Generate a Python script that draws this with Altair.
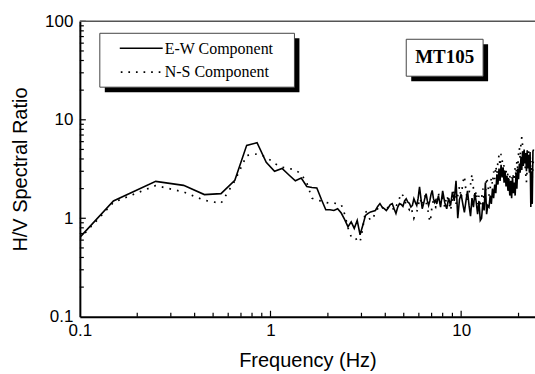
import altair as alt
import pandas as pd

# Frequency (Hz)
freq = [0.1, 0.15, 0.25, 0.35, 0.45, 0.55, 0.65, 0.75, 0.85, 0.95,
        1.05, 1.15, 1.25, 1.35, 1.45, 1.55, 1.65, 1.75, 1.85, 1.95,
        2.05, 2.15, 2.25, 2.35, 2.45, 2.55, 2.65, 2.75, 2.85, 2.95,
        3.05, 3.15, 3.25, 3.35, 3.45, 3.55, 3.65, 3.75, 3.85, 3.95,
        4.05, 4.15, 4.25, 4.35, 4.45, 4.55, 4.65, 4.75, 4.85, 4.95,
        5.05, 5.15, 5.25, 5.35, 5.45, 5.55, 5.65, 5.75, 5.85, 5.95,
        6.05, 6.15, 6.25, 6.35, 6.45, 6.55, 6.65, 6.75, 6.85, 6.95,
        7.05, 7.15, 7.25, 7.35, 7.45,
        7.6, 7.8, 8.0, 8.2, 8.4, 8.6, 8.8, 9.0, 9.2, 9.4,
        9.6, 9.8, 10.0, 10.2, 10.4, 10.6, 10.8, 11.0, 11.2, 11.4,
        11.6, 11.8, 12.0, 12.2, 12.4, 12.6, 12.8, 13.0, 13.2, 13.4,
        13.6, 13.8, 14.0, 14.2, 14.4, 14.6, 14.8, 15.0, 15.2, 15.4,
        15.6, 15.8, 16.0, 16.2, 16.4, 16.6, 16.8, 17.0, 17.2, 17.4,
        17.6, 17.8, 18.0, 18.2, 18.4, 18.6, 18.8, 19.0, 19.2, 19.4,
        19.6, 19.8, 20.0, 20.2, 20.4, 20.6, 20.8, 21.0, 21.2, 21.4,
        21.6, 21.8, 22.0, 22.2, 22.4, 22.6, 22.8, 23.0, 23.2, 23.4,
        23.6, 23.8, 24.0]

# E-W component H/V ratio
ew = [0.64, 1.50, 2.37, 2.16, 1.74, 1.78, 2.43, 5.5, 5.85, 3.7,
      3.0, 3.2, 2.75, 2.4, 2.56, 2.1, 2.05, 2.03, 1.55, 1.22,
      1.22, 1.2, 1.25, 1.13, 0.97, 0.82, 0.92, 0.79, 0.95, 0.68,
      0.85, 1.07, 1.12, 1.16, 1.18, 1.2, 1.32, 1.41, 1.3, 1.25,
      1.2, 1.28, 1.38, 1.41, 1.25, 1.12, 1.3, 1.41, 1.38, 1.32,
      1.5, 1.58, 1.46, 1.42, 1.3, 1.35, 1.58, 1.45, 1.35, 1.6,
      2.08, 1.6, 1.25, 1.4, 1.6, 1.78, 1.5, 1.35, 1.5, 1.75,
      1.92, 1.6, 1.45, 1.52, 1.4,
      1.7, 1.3, 1.9, 1.45, 1.25, 1.6, 1.35, 1.85, 1.5, 2.4,
      1.0, 1.55, 1.75, 1.4, 1.15, 1.5, 1.9, 1.35, 1.05, 1.6,
      1.3, 1.8, 1.45, 1.1, 1.5, 0.95, 1.0, 1.45, 1.2, 2.3,
      1.1, 1.35, 1.3, 1.7, 1.4, 2.0, 1.6, 2.2, 1.8, 2.8,
      2.2, 3.2, 2.4, 3.5, 2.6, 3.3, 2.3, 3.0, 2.1, 2.7,
      1.9, 2.5, 1.7, 2.4, 1.6, 2.6, 1.8, 2.3, 1.7, 2.9,
      2.0, 3.2, 2.5, 3.6, 2.9, 4.2, 3.1, 4.8, 3.4, 5.0,
      3.6, 4.6, 3.0, 4.9, 3.2, 4.4, 2.9, 4.7, 1.3, 3.0,
      1.4, 4.8, 5.0]

# N-S component H/V ratio
ns = [0.62, 1.45, 2.15, 1.85, 1.52, 1.42, 2.4, 4.35, 4.5, 4.2,
      3.6, 3.3, 3.2, 3.1, 2.8, 2.3, 1.6, 1.52, 1.5, 1.45,
      1.42, 1.43, 1.4, 1.38, 1.1, 0.8, 0.65, 0.6, 0.62, 0.575,
      0.8, 1.2, 1.05, 0.95, 1.0, 1.15, 1.25, 1.35, 1.3, 1.2,
      1.25, 1.3, 1.35, 1.3, 1.2, 1.3, 1.45, 1.6, 1.8, 1.7,
      1.5, 1.4, 1.3, 1.22, 1.3, 1.15, 1.0, 1.1, 1.16, 1.3,
      1.6, 1.5, 1.35, 1.55, 1.7, 1.45, 1.3, 1.1, 0.92, 1.05,
      1.4, 1.5, 1.35, 1.3, 1.5,
      1.8, 1.4, 1.6, 1.3, 1.7, 1.5, 1.2, 1.6, 1.9, 1.4,
      1.7, 2.1, 1.6, 2.3, 2.68, 1.9, 1.5, 1.8, 2.2, 2.8,
      2.0, 1.6, 1.9, 1.4, 1.7, 1.3, 1.6, 2.0, 1.5, 1.8,
      2.6, 2.25, 1.7, 2.0, 2.6, 2.2, 3.0, 2.5, 3.4, 2.8,
      3.8, 4.35, 3.4, 4.5, 4.0, 3.0, 3.5, 2.6, 3.1, 2.4,
      2.9, 2.2, 2.7, 2.0, 2.6, 2.2, 2.9, 2.4, 3.3, 2.7,
      3.8, 3.2, 4.5, 5.2, 4.0, 5.8, 6.66, 5.5, 4.8, 4.2,
      3.6, 2.83, 2.33, 3.2, 4.0, 4.8, 3.6, 4.4, 3.0, 3.8,
      2.6, 3.5, 4.0]

x_labels = [0.1, 1, 10]
y_labels = [0.1, 1, 10, 100]
x_minor = [0.2, 0.3, 0.4, 0.5, 0.6, 0.7, 0.8, 0.9,
           2, 3, 4, 5, 6, 7, 8, 9, 20]
x_major = [1, 10]
y_minor = [0.2, 0.3, 0.4, 0.5, 0.6, 0.7, 0.8, 0.9,
           2, 3, 4, 5, 6, 7, 8, 9,
           20, 30, 40, 50, 60, 70, 80, 90]
y_major = [1, 10, 100]

W, H = 456, 296
SANS = "Liberation Sans"
SERIF = "Liberation Serif"

xscale = alt.Scale(type="log", domain=[0.1, 24.4], nice=False)
yscale = alt.Scale(type="log", domain=[0.1, 100], nice=False)

xaxis = alt.Axis(values=x_labels, format="~g", ticks=False, grid=False,
                 domainColor="black", domainWidth=2,
                 labelFont=SANS, labelFontSize=17, labelColor="black",
                 labelPadding=6, labelFlush=False,
                 title="Frequency (Hz)", titleFont=SANS, titleFontSize=20,
                 titleFontWeight="normal", titleColor="black", titlePadding=12)
yaxis = alt.Axis(values=y_labels, format="~g", ticks=False, grid=False,
                 domainColor="black", domainWidth=2,
                 labelFont=SANS, labelFontSize=17, labelColor="black",
                 labelPadding=7, labelFlush=False,
                 title="H/V Spectral Ratio", titleFont=SANS, titleFontSize=20,
                 titleFontWeight="normal", titleColor="black",
                 titleX=-59, titleY=148, titleAngle=270,
                 titleAlign="center", titleBaseline="middle")

df_ew = pd.DataFrame({"f": freq, "v": ew})
df_ns = pd.DataFrame({"f": freq, "v": ns})

line_ew = alt.Chart(df_ew).mark_line(color="black", strokeWidth=1.6, clip=True).encode(
    x=alt.X("f:Q", scale=xscale, axis=xaxis),
    y=alt.Y("v:Q", scale=yscale, axis=yaxis),
)
line_ns = alt.Chart(df_ns).mark_line(color="black", strokeWidth=1.7,
                                     strokeDash=[1.7, 6.1], clip=True).encode(
    x=alt.X("f:Q", scale=xscale, axis=xaxis),
    y=alt.Y("v:Q", scale=yscale, axis=yaxis),
)

def xticks(vals, length):
    return alt.Chart(pd.DataFrame({"f": vals})).mark_rule(color="black", strokeWidth=1.2).encode(
        x=alt.X("f:Q", scale=xscale, axis=xaxis),
        y=alt.value(H), y2=alt.value(H - length))

def yticks(vals, length):
    return alt.Chart(pd.DataFrame({"v": vals})).mark_rule(color="black", strokeWidth=1.2).encode(
        y=alt.Y("v:Q", scale=yscale, axis=yaxis),
        x=alt.value(0), x2=alt.value(length))

ann = pd.DataFrame({"k": [0]})

top_frame = alt.Chart(ann).mark_rule(color="#555555", strokeWidth=1.5).encode(
    x=alt.value(0), x2=alt.value(W), y=alt.value(0))

def box(x1, x2, y1, y2, shadow=5):
    sh = alt.Chart(ann).mark_rect(fill="black").encode(
        x=alt.value(x1 + shadow), x2=alt.value(x2 + shadow),
        y=alt.value(y1 + shadow), y2=alt.value(y2 + shadow))
    bx = alt.Chart(ann).mark_rect(fill="white", stroke="#444444", strokeWidth=1).encode(
        x=alt.value(x1), x2=alt.value(x2), y=alt.value(y1), y2=alt.value(y2))
    return [sh, bx]

leg_solid = alt.Chart(ann).mark_rule(color="black", strokeWidth=1.6).encode(
    x=alt.value(40), x2=alt.value(83), y=alt.value(27))
leg_dot = alt.Chart(ann).mark_rule(color="black", strokeWidth=1.7, strokeDash=[1.7, 5.9]).encode(
    x=alt.value(41), x2=alt.value(84), y=alt.value(51))
leg_t1 = alt.Chart(ann).mark_text(text="E-W Component", font=SERIF, fontSize=16,
                                  align="left", baseline="alphabetic", color="black").encode(
    x=alt.value(85), y=alt.value(33))
leg_t2 = alt.Chart(ann).mark_text(text="N-S Component", font=SERIF, fontSize=16,
                                  align="left", baseline="alphabetic", color="black").encode(
    x=alt.value(85), y=alt.value(56))

mt_text = alt.Chart(ann).mark_text(text="MT105", font=SERIF, fontSize=19, fontWeight="bold",
                                   align="center", baseline="alphabetic", color="black").encode(
    x=alt.value(365.5), y=alt.value(42))

layers = [line_ew, line_ns,
          xticks(x_minor, 4), xticks(x_major, 6),
          yticks(y_minor, 4), yticks(y_major, 6),
          top_frame]
layers += box(20, 215, 12, 66)
layers += [leg_solid, leg_dot, leg_t1, leg_t2]
layers += box(327, 404, 18, 55)
layers += [mt_text]

chart = alt.layer(*layers).properties(
    width=W, height=H,
    autosize="none",
    padding={"left": 80, "top": 21, "right": 0, "bottom": 57},
    background="white",
).configure_view(stroke="transparent")

chart.save("out.html", embed_options={"renderer": "svg", "actions": False})
